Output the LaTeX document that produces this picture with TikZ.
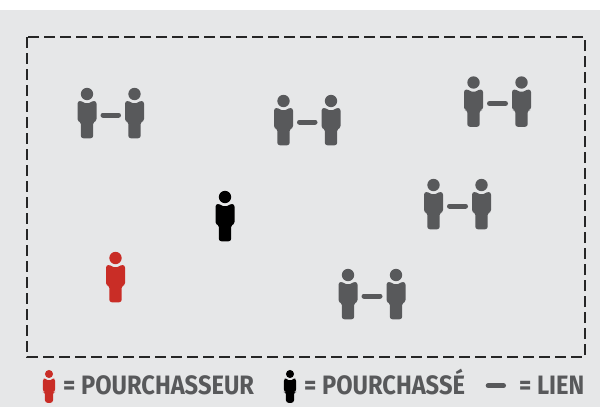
\documentclass[tikz,border=0pt]{standalone}
\usepackage{fontspec}
\setmainfont[FakeStretch=0.89]{Fira Sans Bold}
\usetikzlibrary{positioning}
\definecolor{panel}{HTML}{E6E7E8}
\definecolor{figure}{HTML}{58595B}
\definecolor{chaser}{HTML}{C92D26}
\tikzset{
  link/.style={line width=5pt, line cap=round, draw=figure},
  pairlink/.style={link, shorten >=16pt, shorten <=16pt},
  legend/.style={anchor=base west, inner sep=0pt, text=figure, font=\fontsize{26.6}{27}\selectfont},
  pics/person/.style={code={
    \coordinate (-c) at (0,21);
    \fill[#1] (0,0) circle (6.2);
    \fill[#1, rounded corners=2.6pt] (-9.5,7) -- (-5,7) .. controls (-2,9.4) and (2,9.4) .. (5,7) -- (9.5,7) -- (9.5,27.5) -- (6.2,27.5) -- (6.2,44.3) -- (-6.2,44.3) -- (-6.2,27.5) -- (-9.5,27.5) -- cycle;
  }}
}

\begin{document}
\begin{tikzpicture}[x=1pt, y=-1pt]

  \useasboundingbox (0,0) rectangle (600,407);
  \fill[panel] (0,10) rectangle (600,407);
  \draw[line width=1.3pt, draw=black!85, dash pattern=on 10.7pt off 5.3pt] (27,37) rectangle (585,357);

  % pairs
  \pic (a1) at (87,94) {person=figure};
  \pic (a2) at (134.5,94) {person=figure};
  \pic (b1) at (283.5,101) {person=figure};
  \pic (b2) at (331,101) {person=figure};
  \pic (c1) at (473.5,82.5) {person=figure};
  \pic (c2) at (521.5,82.5) {person=figure};
  \pic (d1) at (433.5,185) {person=figure};
  \pic (d2) at (481.5,185) {person=figure};
  \pic (e1) at (348,275) {person=figure};
  \pic (e2) at (396,275) {person=figure};

  \draw[pairlink] (a1-c) -- (a2-c);
  \draw[pairlink] (b1-c) -- (b2-c);
  \draw[pairlink] (c1-c) -- (c2-c);
  \draw[pairlink] (d1-c) -- (d2-c);
  \draw[pairlink] (e1-c) -- (e2-c);

  \pic (prey) at (225,197) {person=black};
  \pic (hunter) at (115.5,258) {person=chaser};

  % legend
  \pic[scale=0.65] (keyhunter) at (49,374) {person=chaser};
  \pic[scale=0.65] (keyprey) at (290,374) {person=black};
  \coordinate (keya) at (488.2,385.7);
  \coordinate (keyb) at (503.5,385.7);
  \draw[link] (keya) -- (keyb);

  \node[legend] (huntertext) at (63,394) {= POURCHASSEUR};
  \node[legend] (preytext) at (304,394) {= POURCHASSÉ};
  \node[legend] (linktext) at (519,394) {= LIEN};

\end{tikzpicture}
\end{document}
